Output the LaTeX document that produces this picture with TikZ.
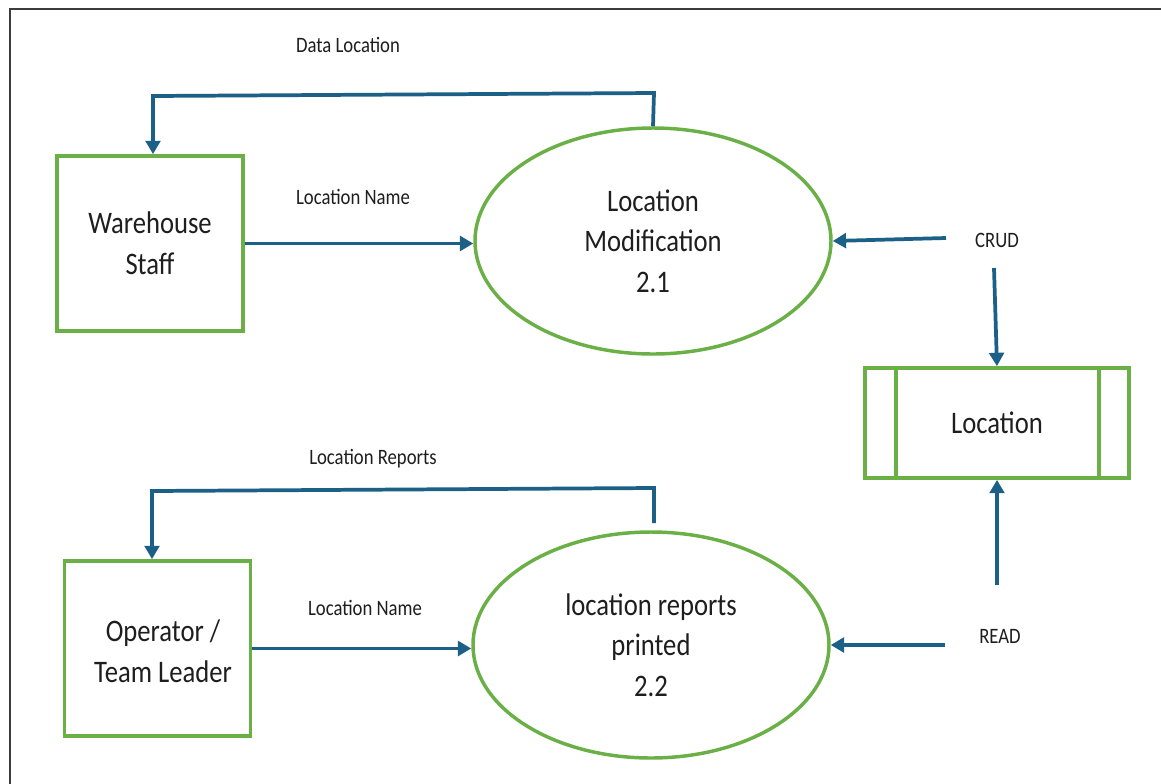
\documentclass[tikz,border=0pt]{standalone}
\usepackage{fontspec}
\setmainfont[FakeStretch=0.85]{Carlito}
\usetikzlibrary{arrows.meta,shapes.geometric,calc}
\definecolor{boxgreen}{RGB}{106,176,70}
\definecolor{flowblue}{RGB}{28,95,135}
\definecolor{inkgray}{RGB}{30,30,30}
\definecolor{framegray}{RGB}{60,60,60}
\tikzset{
  bigtext/.style={font=\fontsize{23.5}{30.5}\selectfont, text=inkgray, align=center},
  lbl/.style={font=\fontsize{16.5}{20}\selectfont, text=inkgray, inner sep=0pt},
  entity/.style={draw=boxgreen, line width=2.8pt, rectangle, inner sep=0pt,
    minimum width=139.5pt, minimum height=131.25pt, bigtext},
  process/.style={draw=boxgreen, line width=2.6pt, ellipse, inner sep=0pt,
    minimum width=267pt, minimum height=169.5pt, bigtext},
  datastore/.style={draw=boxgreen, line width=2.8pt, rectangle, inner sep=0pt,
    minimum width=198pt, minimum height=82.5pt, bigtext},
  flow/.style={draw=flowblue, line width=2.8pt, line join=miter,
    -{Triangle[length=10pt,width=11pt]}}
}
\begin{document}
\begin{tikzpicture}[x=0.75pt, y=-0.75pt]
\useasboundingbox (0,0) rectangle (1161,783);
\fill[white] (0,0) rectangle (1161,783);

% outer frame (right and bottom edges lie beyond the page)
\draw[framegray, line width=1.8pt] (10,9) rectangle (1175,800);

% external entities
\node[entity] (ws) at (150,243.5) {Warehouse\\Staff};
\node[entity] (op) at (157.5,648.5) {};
\node[bigtext] (opText) at (163,651) {Operator /\\Team Leader};

% processes
\node[process] (p1) at (653,241) {Location\\Modification\\2.1};
\node[process] (p2) at (651,645) {location reports\\printed\\2.2};

% data store
\node[datastore] (store) at (997,423) {Location};
\draw[boxgreen, line width=2.8pt]
  ($(store.north west)+(33,0)$) -- ($(store.south west)+(33,0)$)
  ($(store.north east)+(-32,0)$) -- ($(store.south east)+(-32,0)$);

% flow labels
\node[lbl] (lDataLoc) at (348,45) {Data Location};
\node[lbl] (lName1) at (353,197) {Location Name};
\node[lbl] (lCrud) at (997,240) {CRUD};
\node[lbl] (lReports) at (373,459) {Location Reports};
\node[lbl] (lName2) at (365,608) {Location Name};
\node[lbl] (lRead) at (1000,636) {READ};

% free ends of the flows
\coordinate (dl1) at (654,93);
\coordinate (dl2) at (153,96);
\coordinate (lr0) at (654,523);
\coordinate (lr1) at (654,488);
\coordinate (lr2) at (152,491);
\coordinate (crudL) at (946,238);
\coordinate (crudD) at (994,268);
\coordinate (readL) at (945,645);
\coordinate (readU) at (997,585);

% flows of process 2.1
\draw[flow] (p1.north) -- (dl1) -- (dl2) -- (dl2 |- ws.north);
\draw[flow] (ws.east) -- (ws.east -| p1.west);
\draw[flow] (crudL) -- (p1.east);
\draw[flow] (crudD) -- (store.north);

% flows of process 2.2
\draw[flow] (lr0) -- (lr1) -- (lr2) -- (lr2 |- op.north);
\draw[flow] (op.east) -- (op.east -| p2.west);
\draw[flow] (readL) -- (p2.east);
\draw[flow] (readU) -- (store.south);
\end{tikzpicture}
\end{document}
